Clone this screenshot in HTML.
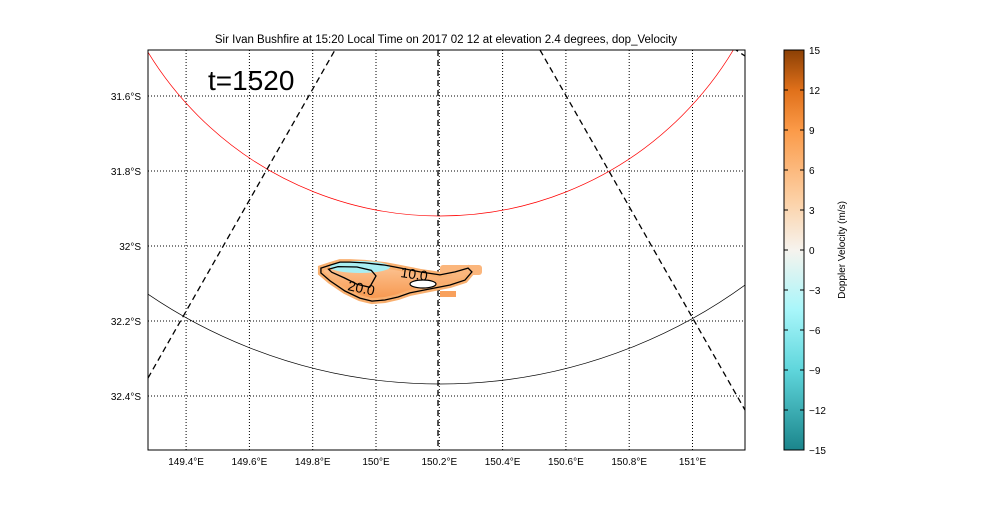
<!DOCTYPE html>
<html><head><meta charset="utf-8"><style>
body{margin:0;background:#fff;font-family:"Liberation Sans",sans-serif}
svg text{font-family:"Liberation Sans",sans-serif}
</style></head><body>
<svg id="c" width="1000" height="500">
<defs>
<linearGradient id="cb" x1="0" y1="1" x2="0" y2="0">
<stop offset="0" stop-color="#1b858c"/><stop offset="0.2" stop-color="#5fd6dc"/><stop offset="0.35" stop-color="#a8f6fa"/>
<stop offset="0.5" stop-color="#f6f3ee"/><stop offset="0.62" stop-color="#fcd2a8"/><stop offset="0.8" stop-color="#fb9a48"/>
<stop offset="0.9" stop-color="#e0701a"/><stop offset="1" stop-color="#8b4005"/></linearGradient>
<linearGradient id="blobg" x1="0" y1="0" x2="0" y2="1">
<stop offset="0" stop-color="#fcc89a"/><stop offset="1" stop-color="#f7954a"/></linearGradient>
<clipPath id="pc"><rect x="148" y="50" width="597" height="400"/></clipPath>
</defs>
<text x="446" y="43" font-size="11.5" text-anchor="middle">Sir Ivan Bushfire at 15:20 Local Time on 2017 02 12 at elevation 2.4 degrees, dop_Velocity</text>
<g id="grid"></g>
<g id="marks" clip-path="url(#pc)"></g>
<rect x="148" y="50" width="597" height="400" fill="none" stroke="#000"/>
<text x="208" y="90" font-size="28">t=1520</text>
<g id="axes"></g>
<rect x="784" y="50" width="20" height="400" fill="url(#cb)" stroke="#000"/>
<g id="cbt"></g>
<text transform="translate(845,250) rotate(-90)" font-size="10" text-anchor="middle">Doppler Velocity (m/s)</text>
</svg>
<script>
const lonTicks=[149.4,149.6,149.8,150.0,150.2,150.4,150.6,150.8,151.0];
const lonLabels=["149.4°E","149.6°E","149.8°E","150°E","150.2°E","150.4°E","150.6°E","150.8°E","151°E"];
const latTicks=[31.6,31.8,32.0,32.2,32.4];
const latLabels=["31.6°S","31.8°S","32°S","32.2°S","32.4°S"];
const cbTicks=[15,12,9,6,3,0,-3,-6,-9,-12,-15];
const outerLon=[149.826,149.855,149.886,149.918,149.965,150.028,150.060,150.139,150.202,150.250,150.291,150.303,150.281,150.234,150.155,150.107,150.070,150.028,149.987,149.949,149.902,149.855,149.826];
const outerLat=[32.059,32.051,32.043,32.043,32.045,32.051,32.056,32.069,32.077,32.069,32.059,32.069,32.091,32.104,32.117,32.125,32.136,32.144,32.147,32.139,32.120,32.093,32.072];
const innerLon=[149.850,149.880,149.940,149.985,150.000,149.990,149.980,149.940,149.900,149.860];
const innerLat=[32.062,32.055,32.056,32.065,32.080,32.095,32.110,32.102,32.085,32.070];
const x=l=>376+(l-150)*316.5, y=l=>246+(l-32)*375;
const NS='http://www.w3.org/2000/svg';
function mk(p,t,a){const e=document.createElementNS(NS,t);for(const k in a)e.setAttribute(k,a[k]);p.appendChild(e);return e;}
const G=document.getElementById('grid'),A=document.getElementById('axes'),M=document.getElementById('marks'),C=document.getElementById('cbt');
lonTicks.forEach((v,i)=>{const px=x(v);
 let l=mk(G,'line',{x1:px,y1:50,x2:px,y2:450,stroke:'#000','stroke-dasharray':'1,2'});
 
 let t=mk(A,'text',{x:px,y:465,'font-size':10,'text-anchor':'middle'});t.textContent=lonLabels[i];
 });
latTicks.forEach((v,i)=>{const py=y(v);
 let l=mk(G,'line',{x1:148,y1:py,x2:745,y2:py,stroke:'#000','stroke-dasharray':'1,2'});
 
 let t=mk(A,'text',{x:141,y:py+4,'font-size':10,'text-anchor':'end'});t.textContent=latLabels[i];
 });
cbTicks.forEach(v=>{const py=250-v*400/30;
 mk(C,'line',{x1:784,y1:py,x2:788,y2:py,stroke:'#000'});mk(C,'line',{x1:800,y1:py,x2:804,y2:py,stroke:'#000'});
 let t=mk(C,'text',{x:809,y:py+4,'font-size':10});t.textContent=(v<0?'\u2212'+(-v):v);
 });
let e;
e=mk(M,'circle',{cx:440,cy:-126,r:342,fill:'none',stroke:'#f00','stroke-width':0.7});
e=mk(M,'circle',{cx:440,cy:-135,r:519,fill:'none',stroke:'#000','stroke-width':0.7});
[[148,378,335,50],[540,50,745,410],[733,48,745,56],[438,50,438,450]].forEach(d=>{
 e=mk(M,'line',{x1:d[0],y1:d[1],x2:d[2],y2:d[3],stroke:'#000','stroke-width':1.3,'stroke-dasharray':'6,4'});
 });
const pts=(a,b)=>a.map((v,i)=>x(v)+','+y(b[i])).join(' ');
e=mk(M,'polygon',{points:pts(outerLon,outerLat),fill:'url(#blobg)',stroke:'#f9b070','stroke-width':6});
e=mk(M,'rect',{x:440,y:265,width:42,height:10,rx:3,fill:'#fbb67c'});
e=mk(M,'rect',{x:440,y:291,width:16,height:6,fill:'#f8a05c'});
e=mk(M,'ellipse',{cx:360,cy:267,rx:30,ry:6,fill:'#a9eef2'});
e=mk(M,'polygon',{points:pts(outerLon,outerLat),fill:'none',stroke:'#000','stroke-width':1.3});
e=mk(M,'polygon',{points:pts(innerLon,innerLat),fill:'none',stroke:'#000','stroke-width':1.3});
e=mk(M,'ellipse',{cx:423,cy:284,rx:13,ry:4,fill:'#fff',stroke:'#000','stroke-width':1.2});
e=mk(M,'text',{x:400,y:277,'font-size':14,transform:'rotate(8 400 277)'});e.textContent='10.0';
e=mk(M,'text',{x:347,y:290,'font-size':14,transform:'rotate(12 347 290)'});e.textContent='20.0';
</script>
</body></html>
